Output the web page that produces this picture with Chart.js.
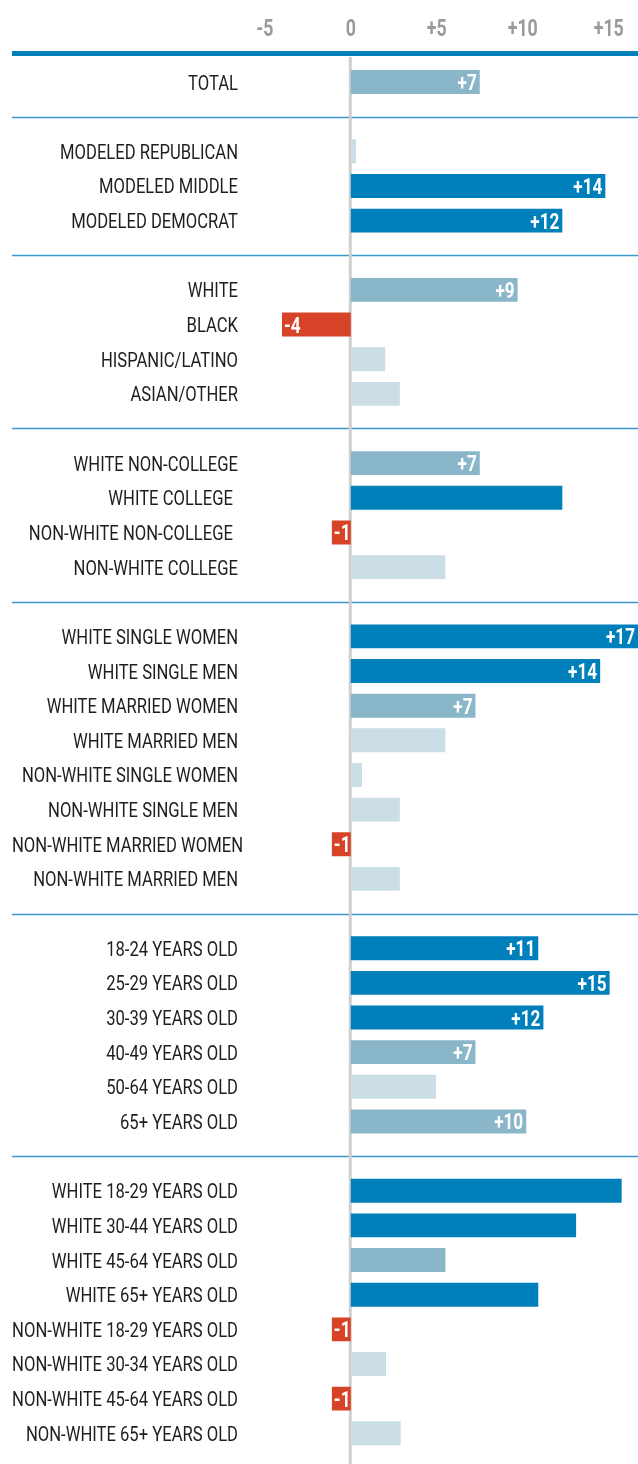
<!DOCTYPE html>
<html>
<head>
<meta charset="utf-8">
<script src="https://cdn.jsdelivr.net/npm/chart.js@4/dist/chart.umd.min.js"></script>
<style>
  body { margin: 0; background: #fff; }
  canvas { display: block; }
</style>
</head>
<body>
<canvas id="chart-area" width="638" height="1464"></canvas>
<script>
// rows, '' = gap between groups
const categories = [
  'TOTAL', '',
  'MODELED REPUBLICAN', 'MODELED MIDDLE', 'MODELED DEMOCRAT', '',
  'WHITE', 'BLACK', 'HISPANIC/LATINO', 'ASIAN/OTHER', '',
  'WHITE NON-COLLEGE', 'WHITE COLLEGE ', 'NON-WHITE NON-COLLEGE ', 'NON-WHITE COLLEGE', '',
  'WHITE SINGLE WOMEN', 'WHITE SINGLE MEN', 'WHITE MARRIED WOMEN', 'WHITE MARRIED MEN',
  'NON-WHITE SINGLE WOMEN', 'NON-WHITE SINGLE MEN', 'NON-WHITE MARRIED WOMEN', 'NON-WHITE MARRIED MEN', '',
  '18-24 YEARS OLD', '25-29 YEARS OLD', '30-39 YEARS OLD', '40-49 YEARS OLD', '50-64 YEARS OLD', '65+ YEARS OLD', '',
  'WHITE 18-29 YEARS OLD', 'WHITE 30-44 YEARS OLD', 'WHITE 45-64 YEARS OLD', 'WHITE 65+ YEARS OLD',
  'NON-WHITE 18-29 YEARS OLD', 'NON-WHITE 30-34 YEARS OLD', 'NON-WHITE 45-64 YEARS OLD', 'NON-WHITE 65+ YEARS OLD'
];

const values = [
  7.5, null,
  0.3, 14.8, 12.3, null,
  9.7, -4.0, 2.0, 2.85, null,
  7.5, 12.3, -1.1, 5.5, null,
  17.3, 14.5, 7.25, 5.5, 0.65, 2.85, -1.1, 2.85, null,
  10.9, 15.05, 11.2, 7.25, 4.95, 10.2, null,
  15.75, 13.1, 5.5, 10.9, -1.1, 2.05, -1.1, 2.9
];

const valueLabels = [
  '+7', null,
  null, '+14', '+12', null,
  '+9', '-4', null, null, null,
  '+7', null, '-1', null, null,
  '+17', '+14', '+7', null, null, null, '-1', null, null,
  '+11', '+15', '+12', '+7', null, '+10', null,
  null, null, null, null, '-1', null, '-1', null
];

// 2 = strong, 1 = moderate, 0 = weak, -1 = negative
const tiers = [
  1, 0,
  0, 2, 2, 0,
  1, -1, 0, 0, 0,
  1, 2, -1, 0, 0,
  2, 2, 1, 0, 0, 0, -1, 0, 0,
  2, 2, 2, 1, 0, 1, 0,
  2, 2, 1, 2, -1, 0, -1, 0
];

const tickValues = [-5, 0, 5, 10, 15];

const tierColors = { '2': '#0080bb', '1': '#8ab6ca', '0': '#cbdee5', '-1': '#d64326' };
const FONT = "Roboto, 'Noto Sans', sans-serif";

// no condensed face installed, so squeeze the text horizontally
function squeezed(ctx, text, x, y, align, sx) {
  ctx.save();
  ctx.translate(x, y);
  ctx.scale(sx, 1);
  ctx.textAlign = align;
  ctx.fillText(text, 0, 0);
  ctx.restore();
}

const decor = {
  id: 'decor',
  beforeDatasetsDraw(chart) {
    const ctx = chart.ctx;
    const xs = chart.scales.x;
    const ys = chart.scales.y;
    const x0 = xs.getPixelForValue(0);
    ctx.save();
    // top rule
    ctx.fillStyle = '#0080bb';
    ctx.fillRect(12, 51, 626, 5);
    // group separators
    ctx.strokeStyle = '#3a98cf';
    ctx.lineWidth = 1.3;
    categories.forEach((c, i) => {
      if (c !== '') return;
      const yy = Math.round(ys.getPixelForValue(i)) + 0.5;
      ctx.beginPath();
      ctx.moveTo(12, yy);
      ctx.lineTo(638, yy);
      ctx.stroke();
    });
    // zero line
    ctx.fillStyle = '#cfcfcf';
    ctx.fillRect(x0 - 2, 57, 3, chart.height - 57);

    // x tick labels
    ctx.fillStyle = '#9a9a9a';
    ctx.font = 'bold 24px ' + FONT;
    ctx.textBaseline = 'alphabetic';
    xs.ticks.forEach(t => {
      const txt = t.value > 0 ? '+' + t.value : String(t.value);
      squeezed(ctx, txt, xs.getPixelForValue(t.value), 36, 'center', 0.74);
    });

    // category labels
    ctx.fillStyle = '#1e1e1e';
    ctx.font = '20px ' + FONT;
    const sx = 231 / ctx.measureText('NON-WHITE MARRIED WOMEN').width;
    categories.forEach((c, i) => {
      if (c === '') return;
      const lx = c.endsWith(' ') ? 233 : (c === 'NON-WHITE MARRIED WOMEN' ? 243 : 238);
      squeezed(ctx, c.trim(), lx, ys.getPixelForValue(i) + 7.5, 'right', sx);
    });
    ctx.restore();
  },
  afterDatasetsDraw(chart) {
    const ctx = chart.ctx;
    const meta = chart.getDatasetMeta(0);
    const right = chart.chartArea.right;
    ctx.save();
    ctx.fillStyle = '#fff';
    ctx.font = 'bold 22px ' + FONT;
    ctx.textBaseline = 'alphabetic';
    meta.data.forEach((bar, i) => {
      const txt = valueLabels[i];
      if (!txt) return;
      if (values[i] < 0) {
        squeezed(ctx, txt, bar.x + 2, bar.y + 8, 'left', 0.78);
      } else {
        squeezed(ctx, txt, Math.min(bar.x, right) - 3, bar.y + 8, 'right', 0.78);
      }
    });
    ctx.restore();
  }
};

window.onload = function() {
  let ctx = document.getElementById('chart-area').getContext('2d');
  new Chart(ctx, {
    type: 'bar',
    data: {
      labels: categories,
      datasets: [{
        data: values,
        backgroundColor: tiers.map(t => tierColors[t]),
        barPercentage: 0.69,
        categoryPercentage: 1,
        clip: 0
      }]
    },
    options: {
      indexAxis: 'y',
      responsive: false,
      animation: false,
      layout: { padding: { top: 0, bottom: 13.4, left: 0, right: 0 } },
      plugins: { legend: { display: false }, tooltip: { enabled: false } },
      scales: {
        x: {
          position: 'top',
          min: -6.5,
          max: 16.7,
          afterBuildTicks: scale => { scale.ticks = tickValues.map(v => ({ value: v })); },
          afterFit: scale => {
            scale.height = 64.7;
            scale.paddingLeft = 0;
            scale.paddingRight = 0;
          },
          grid: { display: false },
          border: { display: false },
          ticks: { display: false }
        },
        y: {
          afterFit: scale => {
            scale.width = 239;
            scale.paddingTop = 0;
            scale.paddingBottom = 0;
          },
          grid: { display: false },
          border: { display: false },
          ticks: { display: false, autoSkip: false }
        }
      }
    },
    plugins: [decor]
  });
};
</script>
</body>
</html>
